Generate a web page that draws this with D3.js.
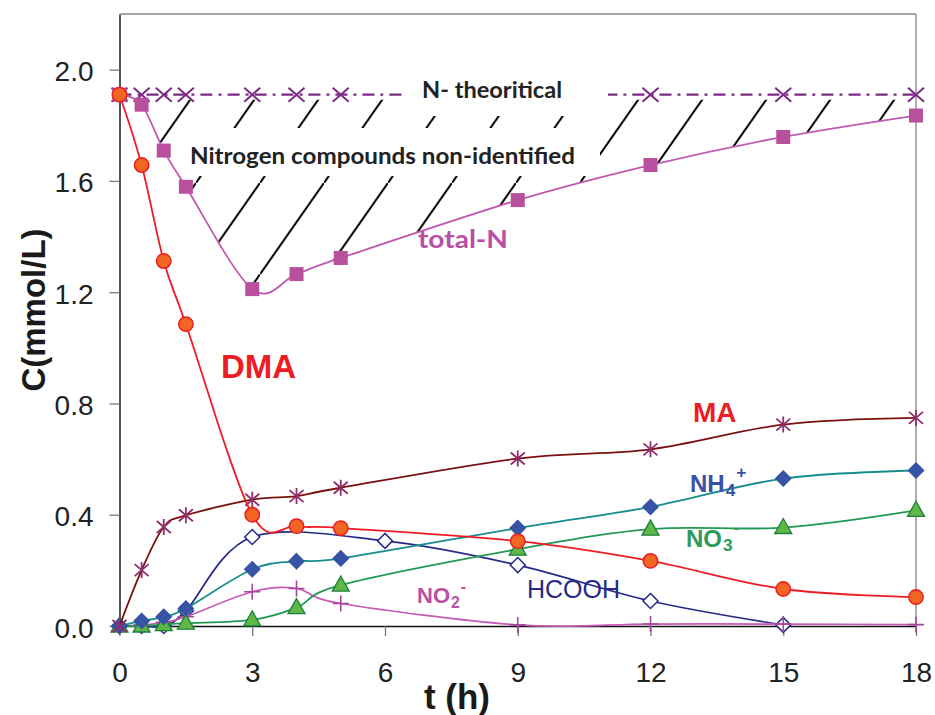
<!DOCTYPE html>
<html>
<head>
<meta charset="utf-8">
<script src="https://cdn.jsdelivr.net/npm/d3@7/dist/d3.min.js"></script>
<style>
  html, body { margin: 0; padding: 0; background: #fff; }
  svg { display: block; }
</style>
</head>
<body>
<svg id="chart" width="935" height="715"></svg>
<script>
// ---------------- data ----------------
const times = [0, 0.5, 1, 1.5, 3, 4, 5, 9, 12, 15, 18];
const nTheoretical = [1.91, 1.91, 1.91, 1.91, 1.91, 1.91, 1.91, 1.91, 1.91, 1.91, 1.91];
const totalN = [1.91, 1.874, 1.709, 1.579, 1.211, 1.265, 1.323, 1.531, 1.657, 1.758, 1.835];
const dma = [1.91, 1.657, 1.312, 1.085, 0.400, 0.359, 0.352, 0.305, 0.234, 0.133, 0.104];
const ma = [0, 0.201, 0.356, 0.398, 0.454, 0.467, 0.497, 0.602, 0.635, 0.724, 0.748];
const nh4 = [0, 0.018, 0.033, 0.063, 0.204, 0.233, 0.243, 0.352, 0.428, 0.530, 0.559];
const no3 = [0, 0, 0.005, 0.010, 0.022, 0.066, 0.147, 0.276, 0.348, 0.354, 0.416];
const no2 = [0, 0.003, 0.013, 0.033, 0.123, 0.135, 0.081, 0.004, 0.007, 0.007, 0.005];
const timesHCOOH = [0, 0.5, 1, 1.5, 3, 6, 9, 12, 15];
const hcooh = [0, 0, 0, 0.055, 0.320, 0.306, 0.219, 0.090, 0.004];

const xTicks = [0, 3, 6, 9, 12, 15, 18];
const yTicks = [0, 0.4, 0.8, 1.2, 1.6, 2.0];

// ---------------- setup ----------------
const svg = d3.select("#chart");
const x = d3.scaleLinear().domain([0, 18]).range([119.5, 916]);
const y = d3.scaleLinear().domain([0, 2.2]).range([626, 14]);
const curve = d3.curveCardinal.tension(0);

const zip = (ts, vs) => ts.map((t, i) => [t, vs[i]]);
const lineGen = d3.line().x(d => x(d[0])).y(d => y(d[1])).curve(curve);

// hatch pattern
const defs = svg.append("defs");
const W = 64, H = 64 / 0.7;
const pat = defs.append("pattern")
  .attr("id", "hatch").attr("patternUnits", "userSpaceOnUse")
  .attr("x", 4).attr("y", 0).attr("width", W).attr("height", H);
pat.append("line").attr("x1", W).attr("y1", 0).attr("x2", 0).attr("y2", H)
  .attr("stroke", "#000").attr("stroke-width", 2);

// hatched area between theoretical N and total N (small gap under the theoretical line)
const area = d3.area().x(d => x(d[0])).y0(y(1.91) + 5).y1(d => Math.max(y(d[1]), y(1.91) + 5)).curve(curve);
svg.append("path").datum(zip(times, totalN))
  .attr("d", area).attr("fill", "url(#hatch)");

// ---------------- axes ----------------
const yAxis = svg.append("g").attr("transform", `translate(${x(0)},0)`)
  .call(d3.axisLeft(y).tickValues(yTicks).tickSize(10).tickSizeOuter(0).tickFormat(d3.format(".1f")));
yAxis.select(".domain").attr("stroke", "#2a2a2a").attr("stroke-width", 1.6);
yAxis.selectAll(".tick line").attr("stroke", "#777").attr("stroke-width", 1.3);
yAxis.selectAll(".tick text").attr("x", -26).attr("dy", 0).attr("y", 11)
  .attr("font-family", "Liberation Sans, Arial, sans-serif").attr("font-size", 28).attr("fill", "#222");

const xAxis = svg.append("g").attr("transform", `translate(0,${y(0)})`)
  .call(d3.axisBottom(x).tickValues(xTicks).tickSize(10).tickSizeOuter(0).tickFormat(d3.format("d")));
xAxis.select(".domain").attr("stroke", "#111").attr("stroke-width", 1.6);
xAxis.selectAll(".tick line").attr("stroke", "#777").attr("stroke-width", 1.3);
xAxis.selectAll(".tick text").attr("y", 56).attr("dy", 0)
  .attr("font-family", "Liberation Sans, Arial, sans-serif").attr("font-size", 28).attr("fill", "#222");

// top/right frame
svg.append("line").attr("x1", x(0)).attr("x2", x(18)).attr("y1", y(2.2)).attr("y2", y(2.2))
  .attr("stroke", "#8a8a8a").attr("stroke-width", 1.4);
svg.append("line").attr("x1", x(18)).attr("x2", x(18)).attr("y1", y(2.2)).attr("y2", y(0))
  .attr("stroke", "#8a8a8a").attr("stroke-width", 1.4);

// axis titles
svg.append("text").attr("transform", "translate(45,310) rotate(-90)")
  .attr("text-anchor", "middle").attr("font-family", "Liberation Sans, Arial, sans-serif")
  .attr("font-weight", "bold").attr("font-size", 33).attr("fill", "#1a1a1a").text("C(mmol/L)");
svg.append("text").attr("x", 457).attr("y", 709)
  .attr("text-anchor", "middle").attr("font-family", "Liberation Sans, Arial, sans-serif")
  .attr("font-weight", "bold").attr("font-size", 35).attr("fill", "#1a1a1a").text("t (h)");

// ---------------- marker helpers ----------------
function drawSeries(ts, vs, opts) {
  const data = zip(ts, vs);
  const g = svg.append("g");
  g.append("path").datum(data).attr("d", lineGen).attr("fill", "none")
    .attr("stroke", opts.line).attr("stroke-width", opts.lw || 1.8)
    .attr("stroke-dasharray", opts.dash || null);
  const m = g.selectAll("g.m").data(data).join("g")
    .attr("transform", d => `translate(${x(d[0])},${y(d[1])})`);
  opts.marker(m);
  return g;
}
const markers = {
  circle: (c, fill, stroke) => m => m.append("circle").attr("r", 7.2).attr("fill", fill).attr("stroke", stroke).attr("stroke-width", 1.5),
  square: (fill) => m => m.append("rect").attr("x", -7).attr("y", -7).attr("width", 14).attr("height", 14).attr("fill", fill),
  diamond: (fill, stroke, s) => m => m.append("path").attr("d", `M0,${-s}L${s},0L0,${s}L${-s},0Z`).attr("fill", fill).attr("stroke", stroke).attr("stroke-width", 1.5),
  triangle: (fill, stroke) => m => m.append("path").attr("d", "M0,-9L8.5,6L-8.5,6Z").attr("fill", fill).attr("stroke", stroke).attr("stroke-width", 1.3),
  cross: (stroke) => m => m.append("path").attr("d", "M-8,-7L8,7M-8,7L8,-7").attr("stroke", stroke).attr("stroke-width", 2).attr("fill", "none"),
  asterisk: (stroke) => m => m.append("path").attr("d", "M-7,-6L7,6M-7,6L7,-6M0,-8L0,8").attr("stroke", stroke).attr("stroke-width", 1.8).attr("fill", "none"),
  plus: (stroke) => m => m.append("path").attr("d", "M-8,0L8,0M0,-8L0,8").attr("stroke", stroke).attr("stroke-width", 1.6).attr("fill", "none")
};

// theoretical N (dash-dot)
drawSeries(times, nTheoretical, { line: "#7b2a83", lw: 2.2, dash: "12,6,3,6", marker: markers.cross("#7b2a83") });

// white boxes for hatch labels
svg.append("rect").attr("x", 402).attr("y", 62).attr("width", 206).attr("height", 54).attr("fill", "#fff");
svg.append("rect").attr("x", 183).attr("y", 128).attr("width", 417).attr("height", 48).attr("fill", "#fff");

const calib = "Lato, 'Open Sans', sans-serif";
svg.append("text").attr("x", 422).attr("y", 98).attr("font-family", calib).attr("font-weight", "bold")
  .attr("font-size", 23).attr("fill", "#222").attr("textLength", 140).attr("lengthAdjust", "spacingAndGlyphs")
  .text("N- theoritical");
svg.append("text").attr("x", 190).attr("y", 164).attr("font-family", calib).attr("font-weight", "bold")
  .attr("font-size", 23).attr("fill", "#222").attr("textLength", 385).attr("lengthAdjust", "spacingAndGlyphs")
  .text("Nitrogen compounds non-identified");

// series
drawSeries(timesHCOOH, hcooh, { line: "#262a86", lw: 1.7, marker: markers.diamond("#fff", "#262a86", 7.5) });
drawSeries(times, no2, { line: "#c65ab7", lw: 1.7, marker: markers.plus("#a4479b") });
drawSeries(times, no3, { line: "#1f9a50", lw: 1.8, marker: markers.triangle("#5db847", "#1f7f3a") });
drawSeries(times, nh4, { line: "#178c8c", lw: 1.8, marker: markers.diamond("#3753a5", "#3753a5", 7.5) });
drawSeries(times, ma, { line: "#7a1010", lw: 1.8, marker: markers.asterisk("#8e2e6b") });
drawSeries(times, totalN, { line: "#c05ab0", lw: 1.8, marker: markers.square("#b8509e") });
drawSeries(times, dma, { line: "#ee1c24", lw: 1.8, marker: markers.circle(7, "#f26522", "#ee1c24") });

// ---------------- labels ----------------
const arial = "Liberation Sans, Arial, sans-serif";
svg.append("text").attr("x", 221).attr("y", 378).attr("font-family", arial).attr("font-weight", "bold")
  .attr("font-size", 33).attr("fill", "#ee1c24").text("DMA");
svg.append("text").attr("x", 693).attr("y", 422).attr("font-family", arial).attr("font-weight", "bold")
  .attr("font-size", 28).attr("fill", "#ee1c24").text("MA");
svg.append("text").attr("x", 418).attr("y", 248).attr("font-family", calib).attr("font-weight", "bold")
  .attr("font-size", 24).attr("fill", "#b94fa3").attr("textLength", 90).attr("lengthAdjust", "spacingAndGlyphs")
  .text("total-N");

function ionLabel(xp, yp, base, sub, sup, size, color, subDy, supDy) {
  const t = svg.append("text").attr("x", xp).attr("y", yp).attr("font-family", arial)
    .attr("font-weight", "bold").attr("font-size", size).attr("fill", color);
  t.append("tspan").text(base);
  t.append("tspan").attr("dy", subDy).attr("dx", 1).attr("font-size", size * 0.72).text(sub);
  t.append("tspan").attr("dy", supDy).attr("dx", 1).attr("font-size", size * 0.72).text(sup);
}
ionLabel(690, 492, "NH", "4", "+", 24, "#3753a5", 4, -18);
ionLabel(686, 547, "NO", "3", "-", 24, "#2e9a5e", 4, -18);
ionLabel(417, 603, "NO", "2", "-", 22, "#bb4fa5", 5, -16);

svg.append("text").attr("x", 527).attr("y", 598).attr("font-family", arial)
  .attr("font-size", 25).attr("fill", "#262a86").text("HCOOH");
</script>
</body>
</html>
